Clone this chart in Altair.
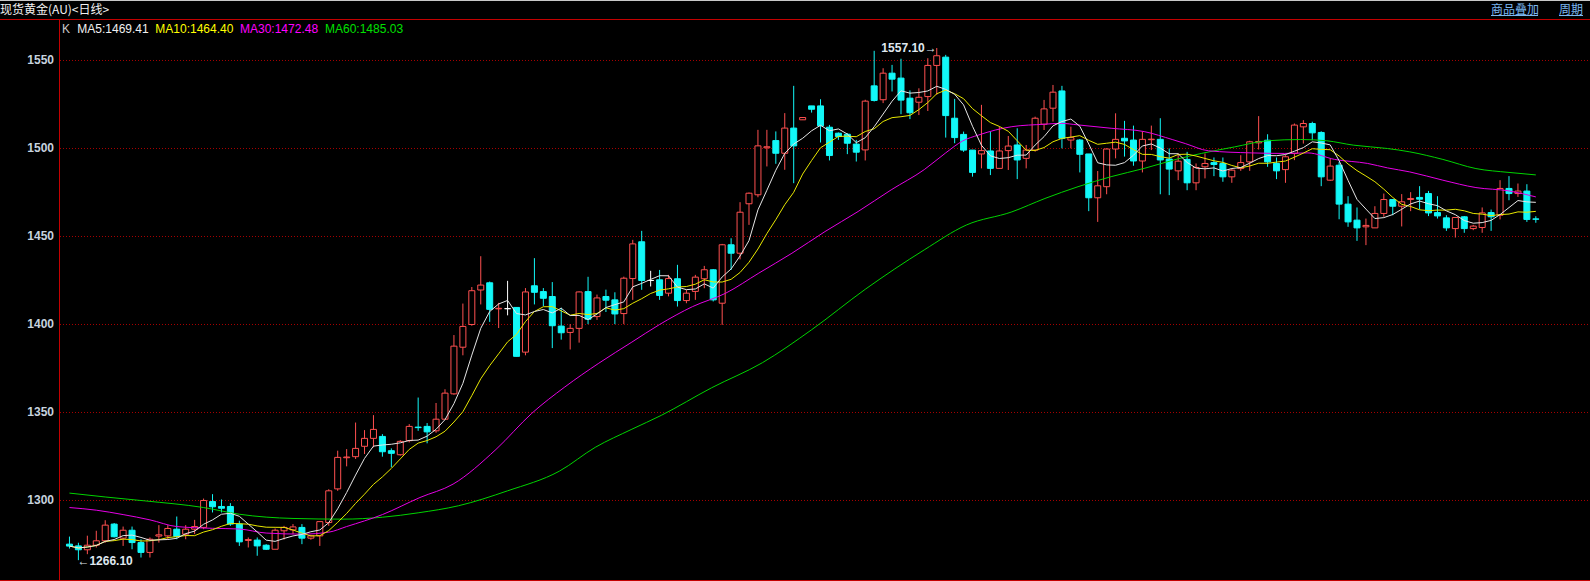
import altair as alt
import pandas as pd

# ---------------- data (spot gold, daily) ----------------
opens = [1275.2, 1274.2, 1272.0, 1274.6, 1277.1, 1286.6, 1278.6, 1283.1, 1276.1, 1270.5,
         1279.8, 1279.9, 1283.7, 1280.9, 1283.7, 1284.7, 1299.4, 1296.6, 1296.6, 1286.6,
         1277.3, 1277.5, 1274.6, 1272.3, 1282.8, 1283.3, 1284.7, 1278.6, 1279.9, 1287.5,
         1306.6, 1324.3, 1324.9, 1330.8, 1335.3, 1336.4, 1328.3, 1326.0, 1334.0, 1341.7,
         1342.1, 1339.6, 1346.2, 1360.6, 1387.1, 1400.0, 1419.6, 1423.7, 1408.9, 1409.0,
         1409.7, 1384.3, 1422.0, 1418.7, 1415.9, 1399.1, 1395.5, 1397.8, 1418.7, 1404.5,
         1415.9, 1414.0, 1406.2, 1426.1, 1447.0, 1425.0, 1425.4, 1417.8, 1426.0, 1413.6,
         1418.8, 1426.0, 1431.1, 1412.1, 1445.3, 1440.5, 1468.6, 1473.7, 1500.4, 1504.5,
         1497.3, 1511.6, 1516.3, 1524.2, 1524.2, 1512.1, 1508.7, 1508.1, 1502.5, 1499.2,
         1535.6, 1527.7, 1542.8, 1540.0, 1528.6, 1526.3, 1529.5, 1547.2, 1551.9, 1517.2,
         1508.0, 1499.1, 1496.9, 1498.6, 1488.7, 1498.8, 1502.0, 1494.4, 1499.1, 1513.8,
         1522.9, 1532.7, 1504.8, 1504.8, 1496.9, 1472.0, 1478.3, 1499.7, 1505.8, 1504.8,
         1492.9, 1505.0, 1505.2, 1494.0, 1487.3, 1493.8, 1480.5, 1489.6, 1492.0, 1491.5,
         1483.9, 1488.6, 1492.4, 1503.2, 1504.7, 1491.5, 1488.0, 1497.2, 1512.3, 1514.2,
         1509.1, 1482.0, 1490.5, 1468.4, 1459.3, 1455.5, 1454.9, 1463.1, 1471.0, 1467.2,
         1471.0, 1472.2, 1474.4, 1463.6, 1460.6, 1454.5, 1461.2, 1454.5, 1455.1, 1463.6,
         1462.1, 1477.3, 1474.4, 1475.8, 1460.0]

highs = [1279.5, 1276.0, 1280.0, 1282.8, 1288.8, 1287.2, 1285.2, 1285.2, 1278.0, 1279.0,
         1286.0, 1286.0, 1290.9, 1286.0, 1289.0, 1301.1, 1303.6, 1300.6, 1298.5, 1288.5,
         1279.0, 1279.0, 1275.2, 1284.1, 1285.6, 1286.6, 1286.6, 1280.5, 1288.0, 1306.4,
         1328.3, 1329.2, 1344.3, 1340.0, 1348.5, 1337.7, 1329.6, 1334.3, 1343.4, 1358.5,
         1344.0, 1355.4, 1363.2, 1394.0, 1411.9, 1421.3, 1438.8, 1424.4, 1412.3, 1424.8,
         1409.7, 1420.7, 1437.7, 1420.7, 1424.1, 1409.5, 1400.2, 1418.8, 1427.1, 1417.0,
         1419.8, 1418.3, 1427.2, 1448.1, 1453.2, 1430.5, 1431.0, 1428.2, 1433.9, 1419.7,
         1428.2, 1433.3, 1431.5, 1445.8, 1449.0, 1469.5, 1475.0, 1510.6, 1510.6, 1509.7,
         1520.1, 1535.6, 1517.6, 1524.2, 1528.0, 1513.4, 1509.1, 1508.7, 1504.9, 1527.7,
         1555.5, 1545.6, 1547.5, 1551.0, 1533.0, 1534.2, 1551.3, 1557.1, 1553.2, 1528.2,
         1509.6, 1499.1, 1524.8, 1509.6, 1512.4, 1507.1, 1511.5, 1502.0, 1518.1, 1527.6,
         1536.1, 1535.6, 1512.4, 1505.4, 1496.9, 1487.2, 1500.1, 1520.0, 1515.7, 1513.0,
         1509.6, 1513.0, 1517.2, 1500.0, 1497.2, 1498.1, 1491.5, 1497.2, 1494.9, 1494.9,
         1488.6, 1496.2, 1504.4, 1518.4, 1508.1, 1494.9, 1496.2, 1514.2, 1516.1, 1515.2,
         1509.8, 1494.3, 1492.4, 1472.9, 1466.5, 1460.2, 1467.2, 1474.4, 1471.0, 1474.1,
         1475.2, 1478.6, 1475.9, 1472.9, 1462.1, 1460.8, 1461.6, 1456.6, 1466.5, 1465.3,
         1482.0, 1484.3, 1480.1, 1479.7, 1461.5]

lows = [1272.7, 1266.1, 1269.5, 1273.3, 1276.0, 1279.0, 1274.2, 1272.3, 1267.6, 1267.6,
        1276.1, 1278.0, 1278.0, 1278.0, 1280.9, 1283.7, 1293.2, 1293.2, 1285.6, 1274.2,
        1273.3, 1268.6, 1271.9, 1272.3, 1277.8, 1280.9, 1275.2, 1277.7, 1274.2, 1285.6,
        1305.5, 1319.4, 1323.6, 1326.4, 1330.2, 1324.9, 1318.9, 1325.5, 1333.0, 1339.6,
        1332.5, 1338.5, 1346.1, 1360.1, 1382.5, 1399.3, 1411.4, 1401.5, 1398.0, 1405.2,
        1381.9, 1382.5, 1411.4, 1410.4, 1386.6, 1391.4, 1385.8, 1389.7, 1400.2, 1402.6,
        1407.1, 1400.2, 1400.2, 1414.0, 1419.7, 1421.6, 1414.0, 1416.0, 1410.2, 1412.1,
        1414.0, 1420.6, 1413.1, 1399.8, 1431.0, 1437.0, 1456.6, 1472.3, 1489.8, 1491.3,
        1487.9, 1480.3, 1516.3, 1520.4, 1503.4, 1493.2, 1504.9, 1496.8, 1492.6, 1493.2,
        1526.7, 1525.8, 1532.4, 1519.5, 1516.7, 1519.0, 1521.3, 1530.5, 1506.2, 1503.0,
        1498.1, 1484.0, 1488.7, 1484.9, 1488.7, 1487.8, 1482.6, 1488.7, 1498.2, 1510.5,
        1515.3, 1500.1, 1500.1, 1486.4, 1464.4, 1458.3, 1474.0, 1494.4, 1495.4, 1490.2,
        1486.4, 1499.1, 1474.0, 1473.5, 1482.0, 1476.3, 1476.3, 1483.0, 1484.3, 1481.1,
        1480.5, 1487.3, 1487.3, 1499.4, 1489.6, 1482.6, 1480.5, 1493.4, 1502.8, 1504.7,
        1478.6, 1481.6, 1459.8, 1455.5, 1447.5, 1445.1, 1454.9, 1461.2, 1462.1, 1455.7,
        1464.4, 1465.3, 1461.6, 1460.2, 1453.2, 1449.4, 1452.1, 1453.6, 1452.1, 1453.2,
        1459.7, 1470.6, 1472.5, 1458.3, 1457.8]

closes = [1274.1, 1272.0, 1274.6, 1277.1, 1286.0, 1279.4, 1283.1, 1276.1, 1270.5, 1278.0,
          1280.5, 1284.1, 1279.5, 1283.7, 1285.2, 1300.0, 1296.4, 1295.6, 1286.6, 1276.5,
          1277.8, 1274.2, 1272.3, 1283.1, 1284.7, 1285.0, 1278.6, 1279.9, 1288.0, 1305.5,
          1324.5, 1324.7, 1329.6, 1335.3, 1340.4, 1327.7, 1326.8, 1333.6, 1342.1, 1341.4,
          1339.0, 1346.2, 1361.0, 1387.7, 1398.9, 1419.2, 1422.4, 1408.6, 1409.2, 1409.0,
          1381.9, 1418.5, 1418.3, 1414.9, 1399.3, 1395.3, 1397.8, 1418.5, 1403.0, 1415.1,
          1413.8, 1406.0, 1426.3, 1445.8, 1425.0, 1425.0, 1416.5, 1426.1, 1413.6, 1417.8,
          1426.9, 1431.1, 1414.0, 1445.3, 1440.5, 1463.8, 1474.6, 1501.5, 1501.0, 1497.3,
          1511.6, 1501.5, 1517.6, 1522.3, 1512.9, 1496.0, 1506.8, 1503.0, 1497.9, 1526.9,
          1527.3, 1542.8, 1539.4, 1527.5, 1520.3, 1529.1, 1547.2, 1552.7, 1518.7, 1506.2,
          1499.1, 1486.4, 1498.8, 1488.7, 1498.6, 1501.4, 1493.5, 1499.1, 1517.2, 1522.5,
          1532.0, 1505.8, 1506.2, 1496.7, 1472.0, 1478.8, 1499.7, 1505.2, 1504.3, 1492.9,
          1505.2, 1505.3, 1493.5, 1488.3, 1492.8, 1480.5, 1489.2, 1491.5, 1490.9, 1483.9,
          1487.7, 1492.0, 1503.8, 1504.0, 1492.4, 1487.3, 1495.3, 1513.3, 1514.2, 1508.9,
          1483.9, 1490.0, 1468.4, 1458.3, 1454.9, 1456.3, 1463.1, 1471.0, 1467.2, 1469.7,
          1471.6, 1471.2, 1463.4, 1461.7, 1454.9, 1460.8, 1454.5, 1455.9, 1463.4, 1461.2,
          1477.3, 1474.4, 1475.8, 1459.7, 1459.8]

# MA30 / MA60 (candle position, value)
ma30_pos = [1, 4, 7, 10, 13, 17, 20, 23, 27, 30, 32, 36, 40.2, 43.9, 48.7, 52.7, 56.4,
            60.2, 63.9, 67.0, 70.7, 74.4, 78.1, 81.8, 85.5, 89.2, 92.9, 96.6, 99.0, 100.9,
            102.7, 106.4, 110.1, 111.9, 113.8, 117.5, 121.2, 124.4, 125.8, 128.4, 133.2,
            136.9, 139.5, 142.5, 146.2, 148.4, 150.9, 154.6, 158.3, 162.0, 165]
ma30_val = [1296.0, 1294.5, 1292.0, 1289.0, 1285.2, 1284.2, 1283.8, 1281.5, 1280.9, 1282.0,
            1285.2, 1292.0, 1301.7, 1309.3, 1329.0, 1349.5, 1364.5, 1378.0, 1390.0, 1400.0,
            1410.2, 1417.8, 1429.2, 1440.5, 1452.8, 1464.2, 1476.5, 1488.0, 1497.5, 1504.3,
            1507.7, 1512.4, 1513.8, 1514.3, 1513.4, 1511.5, 1509.6, 1505.0, 1502.8, 1498.7,
            1497.5, 1497.2, 1497.5, 1493.8, 1491.5, 1489.0, 1486.7, 1482.0, 1477.8, 1475.9,
            1472.5]

ma60_pos = [1, 5, 9.4, 16, 20, 26, 31.6, 36, 40, 44.5, 50, 55.8, 59.8, 63.9, 67.2, 72.8,
            78.5, 84, 90, 96.6, 101.3, 106.4, 110.1, 113.8, 117.5, 121.2, 124.9, 127.6,
            131.3, 135, 138.7, 141.6, 144.6, 148.4, 150.9, 154.6, 158.3, 162, 165]
ma60_val = [1304.2, 1302.0, 1299.8, 1296.0, 1292.2, 1289.8, 1289.4, 1290.5, 1293.0, 1297.0,
            1305.5, 1316.7, 1330.2, 1340.5, 1348.4, 1364.0, 1378.3, 1397.0, 1420.0, 1442.4,
            1456.5, 1464.0, 1471.6, 1478.3, 1484.0, 1488.7, 1494.0, 1497.2, 1500.9, 1504.4,
            1505.1, 1504.4, 1501.9, 1500.0, 1498.1, 1493.8, 1488.6, 1486.4, 1485.0]

y_ticks = [1300, 1350, 1400, 1450, 1500, 1550]
header_text = "现货黄金(AU)<日线>"
link_texts = ["商品叠加", "周期"]
legend_k = "K"
legend_texts = ["MA5:1469.41", "MA10:1464.40", "MA30:1472.48", "MA60:1485.03"]

# ---------------- styling ----------------
RED = "#ff5050"
CYAN = "#12f8f8"
WHITE = "#ffffff"
FRAME_RED = "#c40000"
MA_COLORS = ["#e6e6e6", "#e8e800", "#e600e6", "#00d400"]
LEGEND_COLORS = ["#f0f0f0", "#ffff00", "#ff00ff", "#00e000"]
FONT = "Liberation Sans"
CJK = "Noto Sans CJK SC"

W, H = 1531, 561
xs = alt.Scale(domain=[0.388889, 170.5], nice=False, zero=False)
ys = alt.Scale(domain=[1254.8295, 1573.5795], nice=False, zero=False)

df = pd.DataFrame({
    "i": list(range(1, len(closes) + 1)),
    "open": opens, "high": highs, "low": lows, "close": closes,
})
ma30_df = pd.DataFrame({"pos": ma30_pos, "val": ma30_val})
ma60_df = pd.DataFrame({"pos": ma60_pos, "val": ma60_val})
tick_df = pd.DataFrame({"v": y_ticks})

base = alt.Chart(df).transform_calculate(
    dir="datum.close > datum.open ? 'up' : (datum.close < datum.open ? 'down' : 'flat')"
)
dir_domain = ["up", "down", "flat"]
stroke_scale = alt.Scale(domain=dir_domain, range=[RED, CYAN, WHITE])
fill_scale = alt.Scale(domain=dir_domain, range=["#000000", CYAN, WHITE])

# price grid (dotted dark red) and price labels, drawn as marks
grid = alt.Chart(tick_df).mark_rule(strokeWidth=1, color="#a80000", strokeDash=[1, 2]).encode(
    x=alt.value(1), x2=alt.value(W),
    y=alt.Y("v:Q", scale=ys, axis=None),
)
tick_labels = alt.Chart(tick_df).mark_text(
    align="right", baseline="middle", font=FONT, fontSize=12, fontWeight="bold",
    color="#c6d2de", dx=0,
).encode(
    x=alt.value(-5),
    y=alt.Y("v:Q", scale=ys, axis=None),
    text=alt.Text("v:Q", format="d"),
)

wicks = base.mark_rule(strokeWidth=1).encode(
    x=alt.X("i:Q", scale=xs, axis=None),
    y=alt.Y("low:Q", scale=ys, axis=None),
    y2="high:Q",
    stroke=alt.Stroke("dir:N", scale=stroke_scale, legend=None),
)

bodies = base.mark_bar(size=6, strokeWidth=1).encode(
    x=alt.X("i:Q", scale=xs, axis=None),
    y=alt.Y("open:Q", scale=ys, axis=None),
    y2="close:Q",
    fill=alt.Fill("dir:N", scale=fill_scale, legend=None),
    stroke=alt.Stroke("dir:N", scale=stroke_scale, legend=None),
)

ma60_line = alt.Chart(ma60_df).mark_line(strokeWidth=1, color=MA_COLORS[3], interpolate="monotone").encode(
    x=alt.X("pos:Q", scale=xs, axis=None), y=alt.Y("val:Q", scale=ys, axis=None))
ma30_line = alt.Chart(ma30_df).mark_line(strokeWidth=1, color=MA_COLORS[2], interpolate="monotone").encode(
    x=alt.X("pos:Q", scale=xs, axis=None), y=alt.Y("val:Q", scale=ys, axis=None))

ma10_line = alt.Chart(df).transform_window(
    ma10="mean(close)", frame=[-9, 0], sort=[alt.SortField("i", order="ascending")]
).mark_line(strokeWidth=1, color=MA_COLORS[1]).encode(
    x=alt.X("i:Q", scale=xs, axis=None), y=alt.Y("ma10:Q", scale=ys, axis=None))
ma5_line = alt.Chart(df).transform_window(
    ma5="mean(close)", frame=[-4, 0], sort=[alt.SortField("i", order="ascending")]
).mark_line(strokeWidth=1, color=MA_COLORS[0]).encode(
    x=alt.X("i:Q", scale=xs, axis=None), y=alt.Y("ma5:Q", scale=ys, axis=None))

hi_label = alt.Chart(df).transform_joinaggregate(hmax="max(high)").transform_filter(
    "datum.high == datum.hmax"
).transform_calculate(lbl="format(datum.high, '.2f') + '→'").mark_text(
    align="right", baseline="middle", font=FONT, fontSize=12, fontWeight="bold",
    color="#dfe7ef", dx=0,
).encode(x=alt.X("i:Q", scale=xs, axis=None), y=alt.Y("high:Q", scale=ys, axis=None), text="lbl:N")

lo_label = alt.Chart(df).transform_joinaggregate(lmin="min(low)").transform_filter(
    "datum.low == datum.lmin"
).transform_calculate(lbl="'←' + format(datum.low, '.2f')").mark_text(
    align="left", baseline="middle", font=FONT, fontSize=12, fontWeight="bold",
    color="#dfe7ef", dx=-1, dy=1,
).encode(x=alt.X("i:Q", scale=xs, axis=None), y=alt.Y("low:Q", scale=ys, axis=None), text="lbl:N")


def txt(s, x, y, color, font=FONT, size=12, weight="normal", align="left"):
    return alt.Chart(pd.DataFrame({"t": [s]})).mark_text(
        align=align, baseline="alphabetic", font=font, fontSize=size,
        fontWeight=weight, color=color,
    ).encode(text="t:N", x=alt.value(x), y=alt.value(y))


def hline(x1, x2, y, color, width=1):
    return alt.Chart(pd.DataFrame({"a": [0]})).mark_rule(strokeWidth=width, color=color).encode(
        x=alt.value(x1), x2=alt.value(x2), y=alt.value(y))


def vline(x, y1, y2, color, width=1):
    return alt.Chart(pd.DataFrame({"a": [0]})).mark_rule(strokeWidth=width, color=color).encode(
        x=alt.value(x), y=alt.value(y1), y2=alt.value(y2))


frame = [
    hline(-59, W, -18.5, "#c8c8c8"),       # top grey edge
    hline(-59, W, 0.5, FRAME_RED),         # header separator
    hline(-59, W, 561.5, FRAME_RED),       # bottom line
    vline(0.5, 0, 562, FRAME_RED),         # price axis line
    hline(1432, 1479, -3.5, "#7cb8f2"),    # underline 商品叠加
    hline(1500, 1524, -3.5, "#7cb8f2"),    # underline 周期
]

texts = [
    txt(header_text, -59, -5, "#f2f2f2", font=CJK, size=12),
    txt(link_texts[0], 1432, -5.5, "#7cb8f2", font=CJK, size=12),
    txt(link_texts[1], 1500, -5.5, "#7cb8f2", font=CJK, size=12),
    txt(legend_k, 3, 14, "#c8c8c8"),
    txt(legend_texts[0], 18.3, 14, LEGEND_COLORS[0]),
    txt(legend_texts[1], 96.3, 14, LEGEND_COLORS[1]),
    txt(legend_texts[2], 181, 14, LEGEND_COLORS[2]),
    txt(legend_texts[3], 266, 14, LEGEND_COLORS[3]),
]

chart = alt.layer(
    grid, tick_labels, wicks, bodies, ma60_line, ma30_line, ma10_line, ma5_line,
    hi_label, lo_label, *frame, *texts,
).properties(
    width=W, height=H,
    padding={"left": 59, "top": 19, "right": 0, "bottom": 1},
    autosize=alt.AutoSizeParams(type="none"),
    background="#000000",
).configure_view(stroke=None)

try:
    import jinja2
    TEMPLATE = jinja2.Template("""<!DOCTYPE html>
<html>
<head>
<meta charset="utf-8">
<style>
html, body { margin: 0; padding: 0; background: #000000; overflow: hidden; }
</style>
<script type="text/javascript" src="{{ base_url }}/vega@{{ vega_version }}"></script>
<script type="text/javascript" src="{{ base_url }}/vega-lite@{{ vegalite_version }}"></script>
<script type="text/javascript" src="{{ base_url }}/vega-embed@{{ vegaembed_version }}"></script>
</head>
<body>
<div id="{{ output_div }}"></div>
<script type="text/javascript">
vegaEmbed("#{{ output_div }}", {{ spec }}, {{ embed_options }}).catch(console.error);
</script>
</body>
</html>""")
    chart.save("out.html", embed_options={"renderer": "svg", "actions": False}, template=TEMPLATE)
except Exception:
    chart.save("out.html", embed_options={"renderer": "svg", "actions": False})
